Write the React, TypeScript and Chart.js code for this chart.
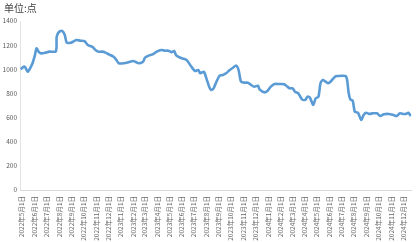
import React, { useEffect, useRef } from 'react';
import { Chart, registerables } from 'chart.js';

Chart.register(...registerables);

const unitLabel = '单位:点';

const dates = [
  '2022-04-28', '2022-05-05', '2022-05-09', '2022-05-15', '2022-05-21', '2022-05-27', '2022-06-02', '2022-06-06',
  '2022-06-11', '2022-06-17', '2022-06-29', '2022-07-07', '2022-07-24', '2022-07-26', '2022-08-01', '2022-08-09',
  '2022-08-15', '2022-08-20', '2022-08-30', '2022-09-05', '2022-09-12', '2022-09-23', '2022-10-03', '2022-10-11',
  '2022-10-22', '2022-10-30', '2022-11-07', '2022-11-16', '2022-11-24', '2022-12-02', '2022-12-14', '2022-12-21',
  '2022-12-27', '2023-01-08', '2023-01-20', '2023-01-31', '2023-02-06', '2023-02-14', '2023-02-25', '2023-03-02',
  '2023-03-11', '2023-03-21', '2023-03-31', '2023-04-11', '2023-04-21', '2023-04-29', '2023-05-07', '2023-05-13',
  '2023-05-19', '2023-06-01', '2023-06-13', '2023-06-25', '2023-07-04', '2023-07-12', '2023-07-17', '2023-07-26',
  '2023-08-01', '2023-08-08', '2023-08-13', '2023-08-19', '2023-08-26', '2023-09-03', '2023-09-11', '2023-09-19',
  '2023-09-28', '2023-10-06', '2023-10-14', '2023-10-20', '2023-10-26', '2023-11-04', '2023-11-12', '2023-11-20',
  '2023-11-28', '2023-12-07', '2023-12-11', '2023-12-23', '2023-12-31', '2024-01-08', '2024-01-17', '2024-01-29',
  '2024-02-10', '2024-02-18', '2024-02-24', '2024-03-02', '2024-03-08', '2024-03-16', '2024-03-25', '2024-04-02',
  '2024-04-08', '2024-04-14', '2024-04-22', '2024-04-28', '2024-05-05', '2024-05-10', '2024-05-16', '2024-05-23',
  '2024-05-29', '2024-06-06', '2024-06-15', '2024-06-20', '2024-07-11', '2024-07-15', '2024-07-19', '2024-07-23',
  '2024-07-29', '2024-08-03', '2024-08-11', '2024-08-19', '2024-08-25', '2024-08-31', '2024-09-08', '2024-09-16',
  '2024-09-27', '2024-10-05', '2024-10-14', '2024-10-26', '2024-11-07', '2024-11-15', '2024-11-23', '2024-12-02',
  '2024-12-08', '2024-12-14', '2024-12-20',
];

const values = [
  1000, 1021, 1016, 980, 1008, 1050, 1118, 1174,
  1146, 1132, 1138, 1146, 1149, 1270, 1311, 1317,
  1284, 1220, 1220, 1229, 1243, 1237, 1234, 1201,
  1187, 1160, 1146, 1146, 1138, 1124, 1104, 1077,
  1050, 1050, 1058, 1069, 1063, 1050, 1063, 1096,
  1113, 1124, 1146, 1160, 1154, 1154, 1141, 1152,
  1113, 1091, 1077, 1021, 986, 994, 967, 980,
  925, 856, 828, 842, 897, 947, 953, 967,
  994, 1013, 1030, 994, 897, 889, 889, 870,
  856, 864, 834, 809, 823, 856, 878, 878,
  876, 856, 842, 842, 814, 801, 751, 746,
  773, 765, 704, 759, 773, 884, 911, 897,
  884, 905, 939, 944, 944, 911, 801, 751,
  740, 649, 640, 580, 621, 640, 630, 635,
  635, 613, 627, 630, 621, 613, 635, 630,
  630, 640, 613,
];

const monthTicks = [
  '2022-05-01', '2022-06-01', '2022-07-01', '2022-08-01', '2022-09-01', '2022-10-01', '2022-11-01', '2022-12-01',
  '2023-01-01', '2023-02-01', '2023-03-01', '2023-04-01', '2023-05-01', '2023-06-01', '2023-07-01', '2023-08-01',
  '2023-09-01', '2023-10-01', '2023-11-01', '2023-12-01',
  '2024-01-01', '2024-02-01', '2024-03-01', '2024-04-01', '2024-05-01', '2024-06-01', '2024-07-01', '2024-08-01',
  '2024-09-01', '2024-10-01', '2024-11-01', '2024-12-01',
];

const yMin = 0;
const yMax = 1400;
const yStep = 200;

const DAY = 86400000;
const dayNum = (s: string) => {
  const [y, m, d] = s.split('-').map(Number);
  return Date.UTC(y, m - 1, d) / DAY;
};
const formatDay = (n: number) => {
  const dt = new Date(Math.round(n) * DAY);
  return `${dt.getUTCFullYear()}年${dt.getUTCMonth() + 1}月${dt.getUTCDate()}日`;
};

const FONT = '"Noto Sans CJK SC", "Noto Sans", sans-serif';

export default function App() {
  const ref = useRef<HTMLCanvasElement | null>(null);

  useEffect(() => {
    if (!ref.current) return;
    const points = dates.map((d, i) => ({ x: dayNum(d), y: values[i] }));
    const unitPlugin = {
      id: 'unitLabel',
      afterDraw(chart: any) {
        const ctx = chart.ctx;
        ctx.save();
        ctx.font = `10px ${FONT}`;
        ctx.fillStyle = '#404040';
        ctx.textBaseline = 'middle';
        ctx.textAlign = 'left';
        ctx.fillText(unitLabel, 4, 8);
        ctx.restore();
      },
    };
    const chart = new Chart(ref.current, {
      type: 'line',
      data: {
        datasets: [
          {
            data: points,
            borderColor: '#5b9bd5',
            borderWidth: 2.6,
            pointRadius: 0,
            tension: 0.25,
            fill: false,
          },
        ],
      },
      options: {
        animation: false,
        responsive: false,
        devicePixelRatio: 1,
        layout: { padding: { top: 21, right: 2, left: 0, bottom: 0 } },
        plugins: { legend: { display: false }, tooltip: { enabled: false }, title: { display: false } },
        scales: {
          x: {
            type: 'linear',
            min: dayNum(dates[0]) - 2,
            max: dayNum(dates[dates.length - 1]) + 1,
            afterBuildTicks: (scale: any) => {
              scale.ticks = monthTicks.map((s) => ({ value: dayNum(s) }));
            },
            afterFit: (scale: any) => {
              scale.height = 52;
            },
            grid: { display: false, drawTicks: false },
            border: { display: true, color: '#d9d9d9', width: 1 },
            ticks: {
              autoSkip: false,
              maxRotation: 90,
              minRotation: 90,
              padding: 6,
              color: '#6a6a6a',
              font: { size: 6.5, family: FONT },
              callback: (v: any) => formatDay(Number(v)),
            },
          },
          y: {
            min: yMin,
            max: yMax,
            afterFit: (scale: any) => {
              scale.width = 20;
            },
            grid: { display: false, drawTicks: false },
            border: { display: true, color: '#e3e3e3', width: 1 },
            ticks: {
              stepSize: yStep,
              padding: 3,
              color: '#595959',
              font: { size: 6.5, family: FONT },
              callback: (v: any) => String(v),
            },
          },
        },
      },
      plugins: [unitPlugin],
    });
    return () => chart.destroy();
  }, []);

  return (
    <div style={{ position: 'fixed', left: 0, top: 0, width: 417, height: 242, background: '#fff' }}>
      <canvas ref={ref} width={417} height={242} style={{ width: 417, height: 242 }} />
    </div>
  );
}
